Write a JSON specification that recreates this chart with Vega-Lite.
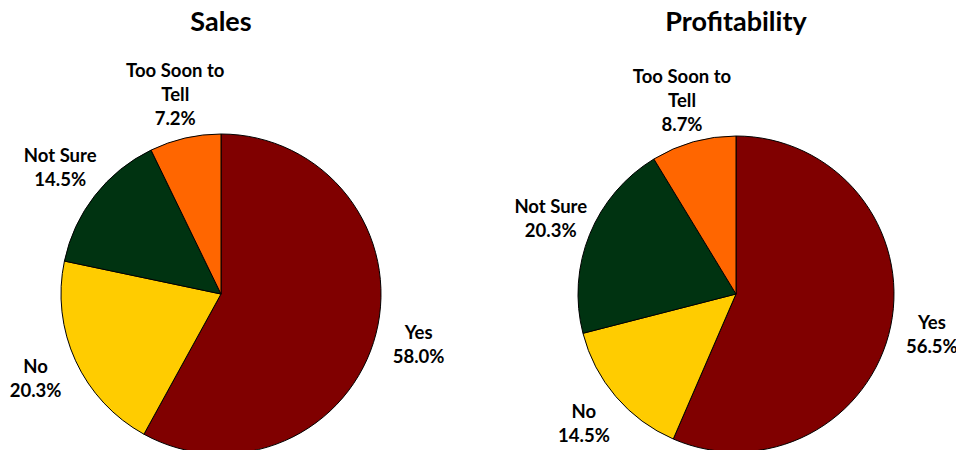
{
  "$schema": "https://vega.github.io/schema/vega-lite/v6.json",
  "padding": {"top": 9, "left": 0, "right": 0, "bottom": 0},
  "background": "white",
  "config": {"view": {"stroke": null}, "font": "Lato", "title": {"font": "Lato", "fontSize": 27, "fontWeight": "bold", "color": "black", "anchor": "middle", "offset": 12}},
  "datasets": {
    "survey": [
      {"chart": "Sales", "category": "Yes", "rank": 1, "pct": 58.0},
      {"chart": "Sales", "category": "No", "rank": 2, "pct": 20.3},
      {"chart": "Sales", "category": "Not Sure", "rank": 3, "pct": 14.5},
      {"chart": "Sales", "category": "Too Soon to Tell", "rank": 4, "pct": 7.2},
      {"chart": "Profitability", "category": "Yes", "rank": 1, "pct": 56.5},
      {"chart": "Profitability", "category": "No", "rank": 2, "pct": 14.5},
      {"chart": "Profitability", "category": "Not Sure", "rank": 3, "pct": 20.3},
      {"chart": "Profitability", "category": "Too Soon to Tell", "rank": 4, "pct": 8.7}
    ]
  },
  "spacing": 69,
  "hconcat": [
    {
      "title": "Sales",
      "width": 442,
      "height": 490,
      "data": {"name": "survey"},
      "transform": [
        {"filter": "datum.chart === 'Sales'"},
        {"calculate": "indexof(datum.category, 'to Tell') >= 0 ? '' : datum.category + '\\n' + format(datum.pct, '.1f') + '%'", "as": "label2"},
        {"calculate": "indexof(datum.category, 'to Tell') >= 0 ? replace(datum.category, 'to Tell', 'to\\nTell') + '\\n' + format(datum.pct, '.1f') + '%' : ''", "as": "label3"}
      ],
      "encoding": {
        "theta": {"field": "pct", "type": "quantitative", "stack": true},
        "order": {"field": "rank", "type": "quantitative"},
        "color": {"field": "category", "type": "nominal", "legend": null,
          "scale": {"domain": ["Yes", "No", "Not Sure", "Too Soon to Tell"], "range": ["#800000", "#FFCC00", "#003311", "#FF6600"]}}
      },
      "layer": [
        {"mark": {"type": "arc", "outerRadius": 160, "stroke": "black", "strokeWidth": 1}},
        {"mark": {"type": "text", "radius": 204, "dy": -12, "fontSize": 18.5, "fontWeight": "bold", "font": "Lato", "lineBreak": "\n", "lineHeight": 24, "align": "center", "baseline": "middle"},
          "encoding": {"text": {"field": "label2"}, "color": {"value": "black"}}},
        {"mark": {"type": "text", "radius": 204, "dy": -24, "fontSize": 18.5, "fontWeight": "bold", "font": "Lato", "lineBreak": "\n", "lineHeight": 24, "align": "center", "baseline": "middle"},
          "encoding": {"text": {"field": "label3"}, "color": {"value": "black"}}}
      ]
    },
    {
      "title": "Profitability",
      "width": 442,
      "height": 490,
      "data": {"name": "survey"},
      "transform": [
        {"filter": "datum.chart === 'Profitability'"},
        {"calculate": "indexof(datum.category, 'to Tell') >= 0 ? '' : datum.category + '\\n' + format(datum.pct, '.1f') + '%'", "as": "label2"},
        {"calculate": "indexof(datum.category, 'to Tell') >= 0 ? replace(datum.category, 'to Tell', 'to\\nTell') + '\\n' + format(datum.pct, '.1f') + '%' : ''", "as": "label3"}
      ],
      "encoding": {
        "theta": {"field": "pct", "type": "quantitative", "stack": true},
        "order": {"field": "rank", "type": "quantitative"},
        "color": {"field": "category", "type": "nominal", "legend": null,
          "scale": {"domain": ["Yes", "No", "Not Sure", "Too Soon to Tell"], "range": ["#800000", "#FFCC00", "#003311", "#FF6600"]}}
      },
      "layer": [
        {"mark": {"type": "arc", "outerRadius": 158, "stroke": "black", "strokeWidth": 1}},
        {"mark": {"type": "text", "radius": 200, "dy": -12, "fontSize": 18.5, "fontWeight": "bold", "font": "Lato", "lineBreak": "\n", "lineHeight": 24, "align": "center", "baseline": "middle"},
          "encoding": {"text": {"field": "label2"}, "color": {"value": "black"}}},
        {"mark": {"type": "text", "radius": 200, "dy": -24, "fontSize": 18.5, "fontWeight": "bold", "font": "Lato", "lineBreak": "\n", "lineHeight": 24, "align": "center", "baseline": "middle"},
          "encoding": {"text": {"field": "label3"}, "color": {"value": "black"}}}
      ]
    }
  ]
}
